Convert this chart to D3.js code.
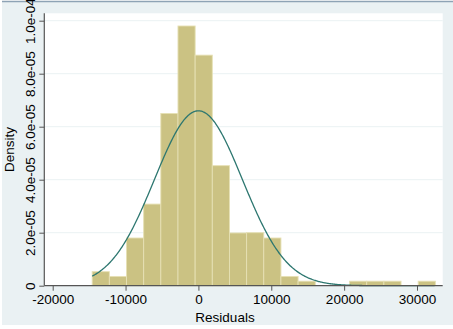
<!DOCTYPE html>
<html>
<head>
<meta charset="utf-8">
<script src="https://cdn.jsdelivr.net/npm/d3@7"></script>
<style>
  body { margin: 0; background: #fff; }
  text { font-family: "Liberation Sans", Arial, sans-serif; fill: #000; }
</style>
</head>
<body>
<div id="chart"></div>
<script>

// histogram bins (left edges) and densities
var binEdges = [-14580, -12225, -9870, -7515, -5160, -2805, -450, 1905, 4260, 6615,
                8970, 11325, 13680, 16035, 18390, 20745, 23100, 25455, 27810, 30165, 32520];
var densities = [0.53e-5, 0.35e-5, 1.8e-5, 3.08e-5, 6.5e-5, 9.8e-5, 8.7e-5, 4.53e-5, 1.99e-5, 2.0e-5,
                 1.8e-5, 0.35e-5, 0.17e-5, 0, 0, 0.17e-5, 0.17e-5, 0.17e-5, 0, 0.17e-5];

var xTicks = [-20000, -10000, 0, 10000, 20000, 30000];
var yTicks = [0, 2e-5, 4e-5, 6e-5, 8e-5, 1e-4];
var yTickLabels = ["0", "2.0e-05", "4.0e-05", "6.0e-05", "8.0e-05", "1.0e-04"];

// fitted normal overlay
var normMean = 0, normSd = 6045;

var W = 453, H = 329;
var plot = {left: 44.3, right: 442.7, top: 13.3, bottom: 285.7};

var svg = d3.select("#chart").append("svg")
    .attr("width", W)
    .attr("height", H);

// outer background
svg.append("rect")
    .attr("x", 2).attr("y", 1)
    .attr("width", W - 2).attr("height", 324)
    .attr("fill", "#eaf1f3");
svg.append("line")
    .attr("x1", 2).attr("x2", W)
    .attr("y1", 1.5).attr("y2", 1.5)
    .attr("stroke", "#8ea3b5").attr("stroke-width", 1.5);

// plot region
svg.append("rect")
    .attr("x", plot.left).attr("y", plot.top)
    .attr("width", plot.right - plot.left)
    .attr("height", plot.bottom - plot.top)
    .attr("fill", "#fff");

var x = d3.scaleLinear().domain([-20000, 30000]).range([52.7, 417]);
var y = d3.scaleLinear().domain([0, 1e-4]).range([plot.bottom, 20.7]);

// gridlines
svg.selectAll(".grid")
    .data(yTicks.slice(1))
    .enter().append("line")
    .attr("class", "grid")
    .attr("x1", plot.left).attr("x2", plot.right)
    .attr("y1", function(d) { return y(d); })
    .attr("y2", function(d) { return y(d); })
    .attr("stroke", "#eaf2f3").attr("stroke-width", 1);

// bars
var bins = densities.map(function(d, i) {
    return {x0: binEdges[i], x1: binEdges[i + 1], d: d};
}).filter(function(b) { return b.d > 0; });

svg.selectAll(".bar")
    .data(bins)
    .enter().append("rect")
    .attr("class", "bar")
    .attr("x", function(b) { return x(b.x0); })
    .attr("width", function(b) { return x(b.x1) - x(b.x0); })
    .attr("y", function(b) { return y(b.d); })
    .attr("height", function(b) { return y(0) - y(b.d); })
    .attr("fill", "#cbc283")
    .attr("stroke", "#e6e0b4")
    .attr("stroke-width", 0.9);

// normal density curve over the data range
var curvePts = d3.range(binEdges[0], binEdges[binEdges.length - 1], 100).map(function(v) {
    var z = (v - normMean) / normSd;
    return [v, Math.exp(-0.5 * z * z) / (normSd * Math.sqrt(2 * Math.PI))];
});
svg.append("path")
    .datum(curvePts)
    .attr("fill", "none")
    .attr("stroke", "#2d7770")
    .attr("stroke-width", 1.3)
    .attr("d", d3.line()
        .x(function(d) { return x(d[0]); })
        .y(function(d) { return y(d[1]); }));

// x axis
var xAxis = svg.append("g")
    .attr("transform", "translate(0," + plot.bottom + ")")
    .call(d3.axisBottom(x).tickValues(xTicks).tickSize(5).tickPadding(4)
        .tickFormat(function(d) { return d < 0 ? "-" + Math.abs(d) : d; }));
xAxis.select(".domain").remove();
xAxis.append("line")
    .attr("x1", plot.left).attr("x2", plot.right)
    .attr("stroke", "#555").attr("stroke-width", 1.2);
xAxis.selectAll(".tick line").attr("stroke", "#555");
xAxis.selectAll(".tick text")
    .attr("font-size", "13.5px")
    .attr("font-family", "Liberation Sans, Arial, sans-serif")
    .attr("fill", "#000");

// y axis
var yAxis = svg.append("g")
    .attr("transform", "translate(" + plot.left + ",0)")
    .call(d3.axisLeft(y).tickValues(yTicks).tickSize(5)
        .tickFormat(function(d, i) { return yTickLabels[i]; }));
yAxis.select(".domain").remove();
yAxis.append("line")
    .attr("y1", plot.top).attr("y2", plot.bottom)
    .attr("stroke", "#555").attr("stroke-width", 1.2);
yAxis.selectAll(".tick line").attr("stroke", "#555");
yAxis.selectAll(".tick text")
    .attr("font-size", "13.5px")
    .attr("font-family", "Liberation Sans, Arial, sans-serif")
    .attr("fill", "#000")
    .attr("x", null).attr("dy", null)
    .attr("text-anchor", "middle")
    .attr("transform", "translate(-9,0) rotate(-90)");

// axis titles
svg.append("text")
    .attr("x", 225).attr("y", 322)
    .attr("text-anchor", "middle")
    .attr("font-size", "13.5px")
    .text("Residuals");

svg.append("text")
    .attr("transform", "translate(14," + ((plot.top + plot.bottom) / 2) + ") rotate(-90)")
    .attr("text-anchor", "middle")
    .attr("font-size", "13.5px")
    .text("Density");

</script>
</body>
</html>
